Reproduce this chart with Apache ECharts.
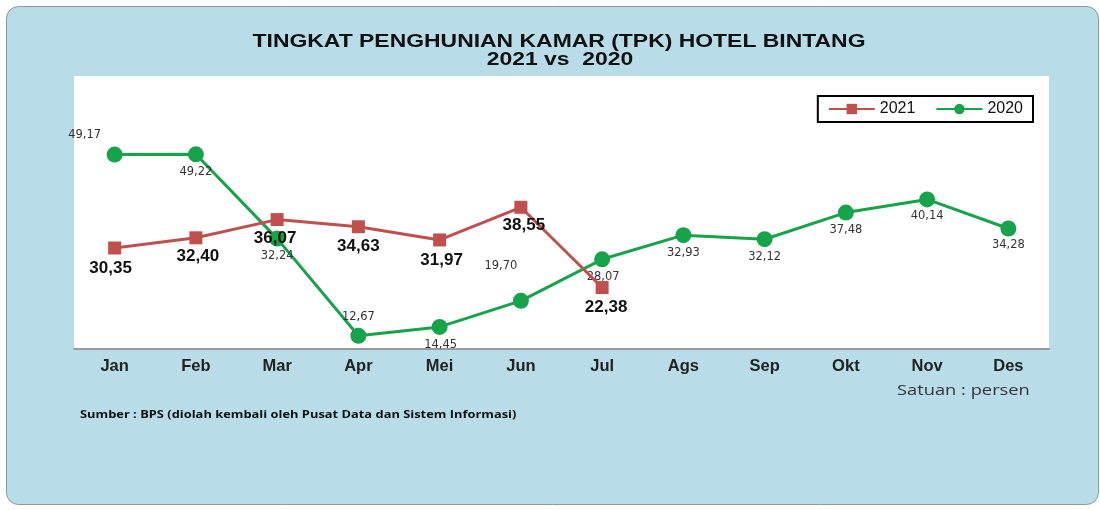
<!DOCTYPE html>
<html><head><meta charset="utf-8">
<script src="https://cdn.jsdelivr.net/npm/echarts@6/dist/echarts.min.js"></script>
<style>html,body{margin:0;padding:0;background:#fff}#c{width:1100px;height:510px}</style>
</head><body><div id="c"></div>
<script>
const categories = ['Jan','Feb','Mar','Apr','Mei','Jun','Jul','Ags','Sep','Okt','Nov','Des'];
const values2021 = [30.35, 32.40, 36.07, 34.63, 31.97, 38.55, 22.38, null, null, null, null, null];
const values2020 = [49.17, 49.22, 32.24, 12.67, 14.45, 19.70, 28.07, 32.93, 32.12, 37.48, 40.14, 34.28];

// label placement offsets (px) relative to each point
const off2021 = [[-4,20],[2,18],[-2,19],[0,20],[2,20],[3,18],[4,20]];
const off2020 = [[-30,-20],[0,18],[0,17],[0,-19],[1,18],[-20,-35],[1,18],[0,18],[0,18],[0,17],[0,17],[0,17]];

const fmt = v => v.toFixed(2).replace('.', ',');

const data2021 = values2021.map((v,i)=> v==null ? null : ({value:v, label:{offset:off2021[i]}}));
const data2020 = values2020.map((v,i)=> ({value:v, label:{offset:off2020[i]}}));

const ARIAL = '"Liberation Sans", Arial, sans-serif';
const chart = echarts.init(document.getElementById('c'), null, {renderer:'canvas'});
chart.setOption({
  backgroundColor:'#ffffff',
  animation:false,
  graphic:[{
    type:'rect', z:-10, silent:true,
    shape:{x:6.5,y:6.5,width:1092,height:498,r:12},
    style:{fill:'#b8dce8',stroke:'#8a9aa0',lineWidth:1}
  },{
    type:'text', x:559, y:42, scaleX:1.31,
    style:{text:'TINGKAT PENGHUNIAN KAMAR (TPK) HOTEL BINTANG',font:'bold 17.5px '+ARIAL,fill:'#111',textAlign:'center',textVerticalAlign:'middle'}
  },{
    type:'text', x:560, y:60, scaleX:1.31,
    style:{text:'2021 vs  2020',font:'bold 17.5px '+ARIAL,fill:'#111',textAlign:'center',textVerticalAlign:'middle'}
  },{
    type:'text', x:897, y:391, scaleX:1.22,
    style:{text:'Satuan : persen',font:'15px "Open Sans", sans-serif',fill:'#333',textVerticalAlign:'middle'}
  },{
    type:'text', x:80, y:415, scaleX:1.17,
    style:{text:'Sumber : BPS (diolah kembali oleh Pusat Data dan Sistem Informasi)',font:'bold 11px "Open Sans", sans-serif',fill:'#111',textVerticalAlign:'middle'}
  }],
  legend:{
    right:67, top:96, itemWidth:46, itemHeight:13, itemGap:20,
    borderColor:'#000', borderWidth:2, padding:[5,10,5,10],
    backgroundColor:'#fff',
    textStyle:{fontSize:16,color:'#111',fontFamily:ARIAL},
    data:['2021','2020']
  },
  grid:{left:74,right:51,top:76,bottom:161,show:true,backgroundColor:'#ffffff',borderWidth:0},
  xAxis:{
    type:'category', data:categories, boundaryGap:true,
    axisLine:{lineStyle:{color:'#9a9a9a',width:2}},
    axisTick:{show:false},
    axisLabel:{margin:9,fontSize:16.5,fontWeight:'bold',color:'#222',fontFamily:ARIAL}
  },
  yAxis:{type:'value',min:10,max:65,show:false,splitLine:{show:false}},
  series:[{
    name:'2021', type:'line', data:data2021, connectNulls:false,
    symbol:'rect', symbolSize:13,
    itemStyle:{color:'#c0504d'}, lineStyle:{color:'#c0504d',width:3},
    label:{show:true,position:'inside',formatter:p=>fmt(p.value),fontSize:17,fontWeight:'bold',color:'#111',fontFamily:ARIAL},
    z:3
  },{
    name:'2020', type:'line', data:data2020,
    symbol:'circle', symbolSize:16,
    itemStyle:{color:'#16a34a'}, lineStyle:{color:'#16a34a',width:3},
    label:{show:true,position:'inside',formatter:p=>fmt(p.value),fontSize:11.5,color:'#333',fontFamily:'"DejaVu Sans", sans-serif'},
    z:2
  }]
});
</script></body></html>
